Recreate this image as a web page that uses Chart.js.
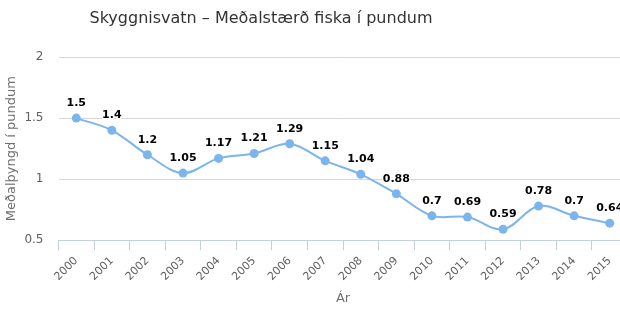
<!DOCTYPE html>
<html>
<head>
<meta charset="utf-8">
<script src="https://cdn.jsdelivr.net/npm/chart.js@4"></script>
<style>
  html, body { margin: 0; padding: 0; background: #fff; overflow: hidden; }
  .chart { position: relative; width: 632px; height: 330px; }
</style>
</head>
<body>
<div class="chart"><canvas id="myChart"></canvas></div>
<script>
const years = ['2000','2001','2002','2003','2004','2005','2006','2007','2008','2009','2010','2011','2012','2013','2014','2015']
const avgWeight = [1.5, 1.4, 1.2, 1.05, 1.17, 1.21, 1.29, 1.15, 1.04, 0.88, 0.7, 0.69, 0.59, 0.78, 0.7, 0.64]
const yTicks = [0.5, 1, 1.5, 2]
const chartTitle = 'Skyggnisvatn – Meðalstærð fiska í pundum'
const yTitle = 'Meðalþyngd í pundum'
const xTitle = 'Ár'

const fontFam = '"DejaVu Sans", "Lucida Grande", sans-serif'

// draws the main title a bit left of centre like the original
const titlePlugin = {
  id: 'titleText',
  afterDraw(chart) {
    const ctx = chart.ctx
    ctx.save()
    ctx.font = '16px ' + fontFam
    ctx.fillStyle = '#333333'
    ctx.textAlign = 'center'
    ctx.textBaseline = 'middle'
    ctx.fillText(chartTitle, 261, 19)
    ctx.restore()
  }
}

// value labels above every point
const labelPlugin = {
  id: 'pointLabels',
  afterDatasetsDraw(chart) {
    const ctx = chart.ctx
    const meta = chart.getDatasetMeta(0)
    ctx.save()
    ctx.font = 'bold 11px ' + fontFam
    ctx.textAlign = 'center'
    ctx.textBaseline = 'middle'
    ctx.lineJoin = 'round'
    meta.data.forEach((pt, i) => {
      const txt = String(avgWeight[i])
      ctx.strokeStyle = '#ffffff'
      ctx.lineWidth = 3
      ctx.strokeText(txt, pt.x, pt.y - 15)
      ctx.fillStyle = '#000000'
      ctx.fillText(txt, pt.x, pt.y - 15)
    })
    ctx.restore()
  }
}

const ctx = document.getElementById('myChart')
new Chart(ctx, {
  type: 'line',
  data: {
    labels: years,
    datasets: [{
      label: 'Meðalþyngd',
      data: avgWeight,
      borderColor: '#7cb5ec',
      backgroundColor: '#7cb5ec',
      borderWidth: 2,
      tension: 0.35,
      pointRadius: 4.5,
      pointHoverRadius: 4.5,
      pointBorderWidth: 0,
      fill: false
    }]
  },
  options: {
    responsive: true,
    maintainAspectRatio: false,
    animation: false,
    layout: { padding: { top: 57, right: 2, left: 4, bottom: 24 } },
    plugins: {
      legend: { display: false },
      tooltip: { enabled: false }
    },
    scales: {
      x: {
        offset: true,
        grid: {
          offset: true,
          drawOnChartArea: false,
          color: '#C0D0E0',
          tickLength: 10
        },
        border: { color: '#C0D0E0', width: 1 },
        ticks: {
          color: '#606060',
          font: { family: fontFam, size: 11 },
          minRotation: 45,
          maxRotation: 45,
          padding: 4,
          autoSkip: false
        },
        title: {
          display: true,
          text: xTitle,
          color: '#707070',
          font: { family: fontFam, size: 13 },
          padding: { top: 3, bottom: 0 }
        }
      },
      y: {
        min: 0.5,
        max: 2,
        afterBuildTicks(axis) { axis.ticks = yTicks.map(v => ({ value: v })) },
        afterFit(axis) { axis.width = 54.5 },
        grid: { color: '#D8D8D8', drawTicks: false },
        border: { display: false },
        ticks: {
          color: '#606060',
          font: { family: fontFam, size: 12 },
          padding: 15,
          callback: v => String(v)
        },
        title: {
          display: true,
          text: yTitle,
          color: '#707070',
          font: { family: fontFam, size: 13 },
          padding: { top: 0, bottom: 4 }
        }
      }
    }
  },
  plugins: [titlePlugin, labelPlugin]
})
</script>
</body>
</html>
